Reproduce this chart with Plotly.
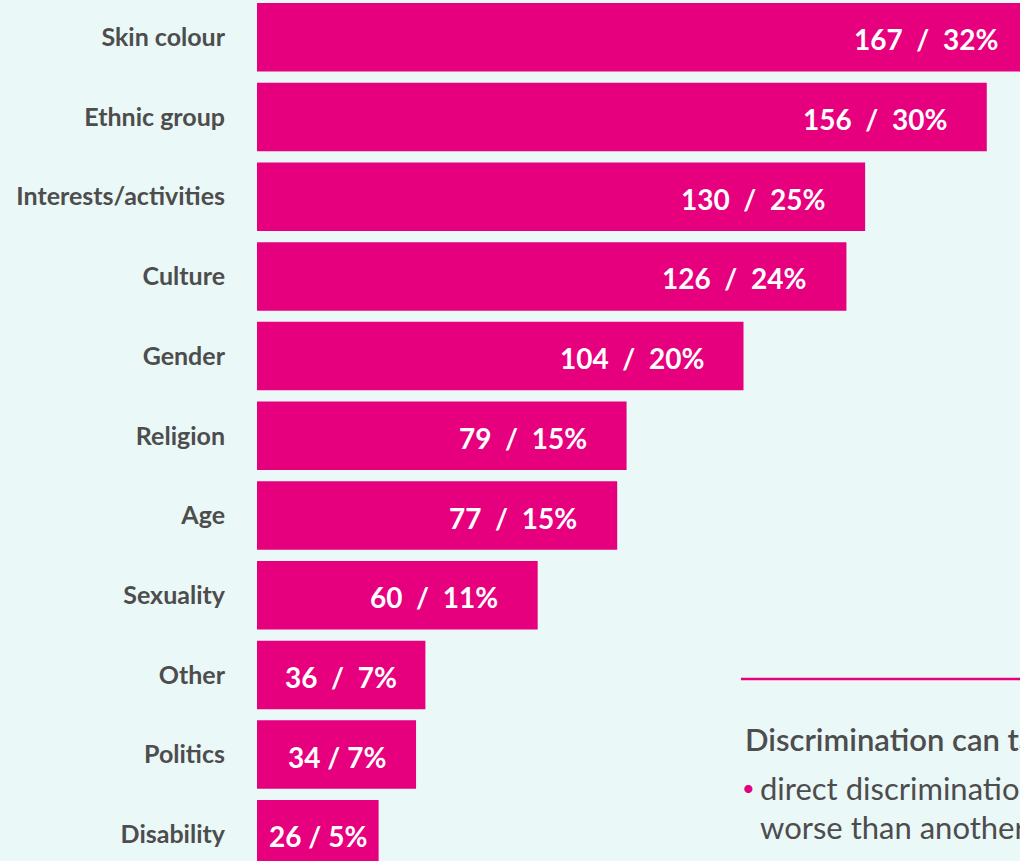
import plotly.graph_objects as go

categories = ["Skin colour", "Ethnic group", "Interests/activities", "Culture", "Gender",
              "Religion", "Age", "Sexuality", "Other", "Politics", "Disability"]
counts = [167, 156, 130, 126, 104, 79, 77, 60, 36, 34, 26]
percents = [32, 30, 25, 24, 20, 15, 15, 11, 7, 7, 5]

heading = "Discrimination can take different forms:"
bullet_lines = ["direct discrimination – when someone is treated",
                "worse than another person because of who they are"]

PINK = "#E6007E"
GREY = "#4D4D4D"
BG = "#EBF8F8"
NB = "\u00a0"
XMAX = 163.1  # the widest bar runs off the right edge

fig = go.Figure(go.Bar(
    x=counts, y=categories, orientation="h",
    marker=dict(color=PINK, line=dict(width=0)),
    hoverinfo="skip",
))

# value labels inside the bars (paper x so the clipped top bar still gets its label)
for cat, c, p in zip(categories, counts, percents):
    sep = NB * 2 if c >= 36 else NB
    txt = f"{c}{sep}/{sep}{p}%"
    if c >= 40:
        pos = dict(x=c / XMAX, xanchor="right", xshift=-38)
    else:
        pos = dict(x=c / 2 / XMAX, xanchor="center")
    fig.add_annotation(text=txt, y=cat, xref="paper", yref="y", showarrow=False,
                       yshift=-2, font=dict(family="Lato", size=28, color="white", weight="bold"),
                       **pos)

# side note (runs off the right edge, as in the original)
fig.add_shape(type="line", xref="paper", yref="paper", x0=0.6343, x1=1.0,
              y0=0.2114, y1=0.2114, line=dict(color=PINK, width=2.5))
fig.add_annotation(text=heading, xref="paper", yref="paper", x=0.6365, y=0.1417,
                   xanchor="left", yanchor="middle", showarrow=False,
                   font=dict(family="Lato", size=31, color=GREY, weight=600))
fig.add_annotation(text="•", xref="paper", yref="paper", x=0.6325, y=0.0848,
                   xanchor="left", yanchor="middle", showarrow=False,
                   font=dict(family="Lato", size=22, color=PINK))
for i, line in enumerate(bullet_lines):
    fig.add_annotation(text=line, xref="paper", yref="paper", x=0.6565, y=0.0848 - i * 0.045,
                       xanchor="left", yanchor="middle", showarrow=False,
                       font=dict(family="Lato", size=31, color=GREY))

fig.update_layout(
    width=1020, height=861,
    margin=dict(l=257, r=0, t=0, b=0),
    paper_bgcolor=BG, plot_bgcolor=BG,
    bargap=0.14, showlegend=False,
)
fig.update_xaxes(range=[0, XMAX], visible=False, fixedrange=True)
fig.update_yaxes(
    categoryorder="array", categoryarray=categories,
    range=[10.335, -0.468], showgrid=False, zeroline=False, showline=False,
    ticks="", ticklabelstandoff=31,
    tickfont=dict(family="Lato", size=25, color=GREY, weight="bold"),
    fixedrange=True,
)

fig.write_html("out.html", config={"displayModeBar": False},
               post_script="document.body.style.margin='0';")
